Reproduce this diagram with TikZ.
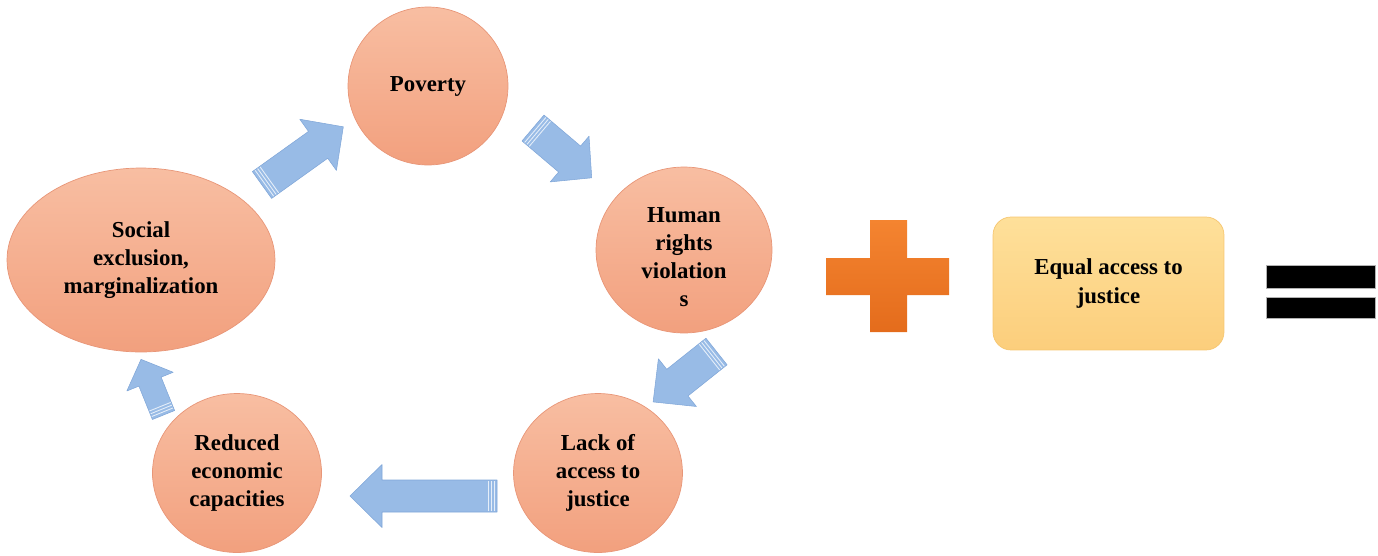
\documentclass[tikz,border=0pt]{standalone}
\usepackage{fontspec}
\setmainfont{Liberation Serif}
\usepackage{xcolor}
\definecolor{salmontop}{RGB}{248,190,162}
\definecolor{salmonbot}{RGB}{242,160,126}
\definecolor{salmonedge}{RGB}{232,150,120}
\definecolor{arrowblue}{RGB}{152,187,230}
\definecolor{arrowedge}{RGB}{128,166,216}
\definecolor{plusorange}{RGB}{244,132,48}
\definecolor{plusdark}{RGB}{228,108,28}
\definecolor{boxtop}{RGB}{254,224,154}
\definecolor{boxbot}{RGB}{252,206,124}
\definecolor{boxedge}{RGB}{246,198,112}
\usepackage{tikz}
\usetikzlibrary{positioning,shapes}

\tikzset{
  cyclenode/.style={ellipse, inner sep=0pt, top color=salmontop, bottom color=salmonbot,
    draw=salmonedge, line width=.4pt, align=center, font=\fontsize{13}{16}\selectfont\bfseries},
  arrowbody/.style={fill=arrowblue, draw=arrowedge, line width=.3pt, line join=round},
  stripe/.style={draw=white!75!arrowblue, line width=.5pt},
}

% block arrow: tail point, angle, length, shaft width, head width, head length
\newcommand{\cyclearrow}[6]{%
  \begin{scope}[shift={#1}, rotate=#2]
    \filldraw[arrowbody] (0,-#4/2) -- (#3-#6,-#4/2) -- (#3-#6,-#5/2) -- (#3,0)
      -- (#3-#6,#5/2) -- (#3-#6,#4/2) -- (0,#4/2) -- cycle;
    \foreach \s in {3,6,9} \draw[stripe] (\s,-#4/2+.6) -- (\s,#4/2-.6);
  \end{scope}}

\begin{document}
\begin{tikzpicture}[x=0.02cm, y=-0.02cm]
\useasboundingbox (0,0) rectangle (1378,555);

% the cycle
\node[cyclenode, minimum width=3.2cm, minimum height=3.16cm] (poverty) at (428,86) {Poverty};
\node[cyclenode, minimum width=3.52cm, minimum height=3.32cm] (rights) at (684,250)
  {\rule{0pt}{17pt}Human\\rights\\violation\\s};
\node[cyclenode, minimum width=3.38cm, minimum height=3.18cm] (lack) at (598,473) {Lack of\\access to\\justice};
\node[cyclenode, minimum width=3.38cm, minimum height=3.18cm] (reduced) at (237,473) {Reduced\\economic\\capacities};
\node[cyclenode, minimum width=5.36cm, minimum height=3.68cm] (social) at (141,260) {Social\\exclusion,\\marginalization};

\cyclearrow{(262,185)}{35.6}{100}{33}{63}{31}
\cyclearrow{(533,128)}{-40.3}{77}{34}{60}{29}
\cyclearrow{(716.5,351.5)}{-141.5}{81}{34}{61}{31}
\cyclearrow{(497,496)}{180}{147}{32}{63}{32}
\cyclearrow{(163.5,415)}{112}{60}{24}{50}{24}

% plus
\shade[top color=plusorange, bottom color=plusdark] (870,220) -- (907,220) -- (907,258) -- (949,258)
  -- (949,295) -- (907,295) -- (907,332) -- (870,332) -- (870,295) -- (826,295) -- (826,258)
  -- (870,258) -- cycle;

\node[rounded corners=0.36cm, top color=boxtop, bottom color=boxbot, draw=boxedge,
  minimum width=4.62cm, minimum height=2.66cm, align=center,
  font=\fontsize{13}{16}\selectfont\bfseries] (justice) at (1108.5,283.5) {Equal access to\\justice};

% equals
\filldraw[fill=black, draw=gray!60] (1266,265) rectangle (1375,288);
\filldraw[fill=black, draw=gray!60] (1266,297) rectangle (1375,318);
\end{tikzpicture}
\end{document}
